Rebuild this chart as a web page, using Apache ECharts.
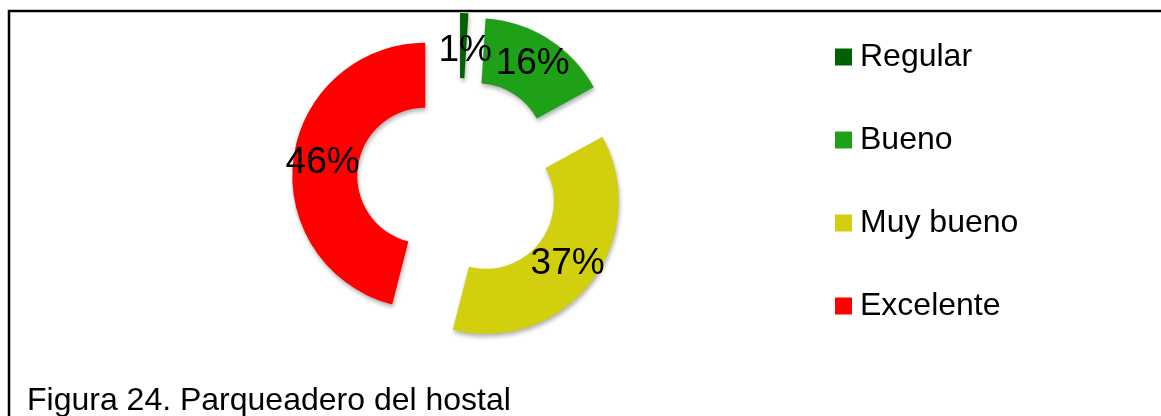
<!DOCTYPE html>
<html>
<head>
<meta charset="utf-8">
<script src="https://cdn.jsdelivr.net/npm/echarts@6/dist/echarts.min.js"></script>
<style>
html,body{margin:0;padding:0;background:#fff;}
#chart{width:1161px;height:416px;}
</style>
</head>
<body>
<div id="chart"></div>
<script>
const categories = ['Regular', 'Bueno', 'Muy bueno', 'Excelente'];
const values = [1, 16, 37, 46];
const colors = ['#006100', '#1FA019', '#D2CF0F', '#FF0000'];
const caption = 'Figura 24. Parqueadero del hostal';

const FONT = '"Liberation Sans", Arial, sans-serif';
const OFFSET = 34;
const LABEL_SIZE = 37;
const LABEL_DY = 3;
const chart = echarts.init(document.getElementById('chart'), null, {renderer: 'canvas'});

const data = categories.map((c, i) => ({
  name: c,
  value: values[i],
  selected: true,
  itemStyle: {color: colors[i]}
}));

function baseGraphics(extra) {
  return [
    {
      id: 'frame',
      type: 'polyline',
      shape: {points: [[9, 416], [9, 11], [1161, 11]]},
      style: {stroke: '#000', lineWidth: 2.5, fill: null},
      silent: true
    },
    {
      id: 'caption',
      type: 'text',
      x: 27,
      y: 401,
      style: {text: caption, fontFamily: FONT, fontSize: 32, fill: '#000', verticalAlign: 'middle', align: 'left'},
      silent: true
    }
  ].concat(extra || []);
}

chart.setOption({
  animation: false,
  backgroundColor: '#ffffff',
  legend: {
    orient: 'vertical',
    left: 835,
    top: 41,
    padding: 0,
    itemWidth: 17,
    itemHeight: 17,
    itemGap: 51,
    icon: 'rect',
    selectedMode: false,
    data: categories,
    textStyle: {fontFamily: FONT, fontSize: 32, lineHeight: 31, color: '#000', padding: [0, 0, 0, 3]}
  },
  graphic: baseGraphics(),
  series: [{
    type: 'pie',
    center: [459, 180],
    radius: [68, 133],
    startAngle: 90,
    clockwise: true,
    selectedMode: 'multiple',
    selectedOffset: OFFSET,
    avoidLabelOverlap: false,
    minShowLabelAngle: 0,
    emphasis: {disabled: true},
    itemStyle: {
      shadowBlur: 4,
      shadowColor: 'rgba(0,0,0,0.3)',
      shadowOffsetX: 1,
      shadowOffsetY: 3
    },
    label: {
      show: true,
      position: 'inside',
      padding: [LABEL_DY * 2, 0, 0, 0],
      formatter: p => p.value + '%',
      fontFamily: FONT,
      fontSize: LABEL_SIZE,
      color: '#000'
    },
    labelLine: {show: false},
    data: data
  }]
});

// The library hides inside labels of very thin sectors; place such labels
// at the middle of their (exploded) sector using the pie's computed layout.
const pieData = chart.getModel().getSeriesByIndex(0).getData();
const extra = [];
for (let i = 0; i < values.length; i++) {
  const lay = pieData.getItemLayout(i);
  const el = pieData.getItemGraphicEl(i);
  const label = el && el.getTextContent && el.getTextContent();
  if (label && !label.ignore && !label.invisible) continue;
  const mid = (lay.startAngle + lay.endAngle) / 2;
  const dist = OFFSET + (lay.r + lay.r0) / 2;
  extra.push({
    id: 'lbl' + i,
    type: 'text',
    x: lay.cx + Math.cos(mid) * dist + 2,
    y: lay.cy + Math.sin(mid) * dist + LABEL_DY + 2,
    z: 10,
    style: {text: values[i] + '%', fontFamily: FONT, fontSize: LABEL_SIZE, fill: '#000', align: 'center', verticalAlign: 'middle'},
    silent: true
  });
}
if (extra.length) chart.setOption({graphic: baseGraphics(extra)});
</script>
</body>
</html>
